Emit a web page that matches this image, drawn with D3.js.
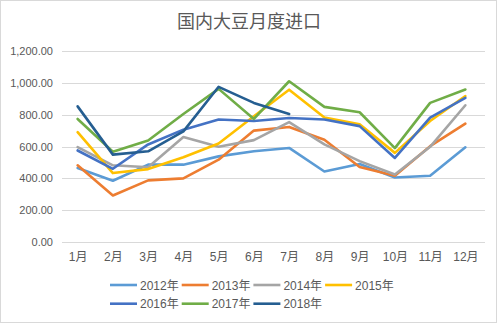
<!DOCTYPE html>
<html>
<head>
<meta charset="utf-8">
<script src="https://cdn.jsdelivr.net/npm/d3@7"></script>
<style>
  html, body { margin: 0; padding: 0; background: #fff; }
  svg { display: block; }
  text { font-family: "Liberation Sans", "Noto Sans CJK SC", sans-serif; fill: #595959; }
</style>
</head>
<body>
<svg id="chart" width="499" height="324"></svg>
<script>
// Monthly soybean imports, one series per year
const months = ["1月","2月","3月","4月","5月","6月","7月","8月","9月","10月","11月","12月"];
const seriesNames = ["2012年","2013年","2014年","2015年","2016年","2017年","2018年"];
const seriesColors = ["#5B9BD5","#ED7D31","#A5A5A5","#FFC000","#4472C4","#70AD47","#255E91"];
const v2012 = [465, 385, 486, 486, 538, 570, 591, 443, 490, 405, 416, 595];
const v2013 = [482, 292, 387, 400, 517, 700, 723, 643, 471, 416, 602, 744];
const v2014 = [596, 482, 470, 659, 598, 640, 753, 613, 508, 424, 598, 859];
const v2015 = [690, 433, 458, 532, 619, 790, 957, 782, 740, 560, 760, 917];
const v2016 = [575, 460, 613, 706, 770, 760, 779, 770, 728, 528, 782, 906];
const v2017 = [773, 567, 638, 804, 962, 773, 1010, 849, 815, 590, 874, 958];
const v2018 = [852, 549, 570, 695, 975, 874, 804];
const yTicks = [0, 200, 400, 600, 800, 1000, 1200];
const title = "国内大豆月度进口";

const allValues = [v2012, v2013, v2014, v2015, v2016, v2017, v2018];

const svg = d3.select("#chart");
const W = 499, H = 324;
const plot = { left: 60, right: 483, top: 51, bottom: 242 };

// outer chart border
svg.append("rect")
  .attr("x", 0.5).attr("y", 0.5)
  .attr("width", W - 3).attr("height", H - 2)
  .attr("fill", "#fff").attr("stroke", "#d9d9d9").attr("stroke-width", 1);

svg.append("text")
  .attr("x", 249).attr("y", 28)
  .attr("text-anchor", "middle")
  .style("font-size", "18px")
  .style("font-family", "'Noto Sans CJK SC', sans-serif")
  .text(title);

const x = d3.scalePoint().domain(months).range([plot.left, plot.right]).padding(0.5);
const y = d3.scaleLinear().domain([0, 1200]).range([plot.bottom, plot.top]);

// horizontal gridlines
svg.append("g")
  .selectAll("line")
  .data(yTicks)
  .join("line")
  .attr("x1", plot.left + 2).attr("x2", plot.right + 2)
  .attr("y1", d => Math.round(y(d)) + 0.5).attr("y2", d => Math.round(y(d)) + 0.5)
  .attr("stroke", "#d9d9d9").attr("stroke-width", 1);

// y axis labels
const yAxis = d3.axisLeft(y).tickValues(yTicks).tickSize(0).tickPadding(0)
  .tickFormat(d3.format(",.2f"));
const gy = svg.append("g").attr("transform", `translate(${53},0)`).call(yAxis);
gy.select(".domain").remove();
gy.selectAll("text").style("font-size", "11px").attr("fill", "#595959")
  .style("font-family", "'Liberation Sans', sans-serif");

// x axis labels
const xAxis = d3.axisBottom(x).tickSize(0).tickPadding(0);
const gx = svg.append("g").attr("transform", `translate(0,${252})`).call(xAxis);
gx.select(".domain").remove();
gx.selectAll("text").style("font-size", "12px").attr("fill", "#595959")
  .style("font-family", "'Liberation Sans', 'Noto Sans CJK SC', sans-serif");

// series lines
const line = d3.line()
  .x((d, i) => x(months[i]))
  .y(d => y(d));

svg.append("g")
  .selectAll("path")
  .data(allValues)
  .join("path")
  .attr("d", d => line(d))
  .attr("fill", "none")
  .attr("stroke", (d, i) => seriesColors[i])
  .attr("stroke-width", 2.6)
  .attr("stroke-linejoin", "round")
  .attr("stroke-linecap", "round");

// legend: two rows of four items
const legend = svg.append("g");
const items = legend.selectAll("g")
  .data(seriesNames)
  .join("g")
  .attr("transform", (d, i) => `translate(${110 + (i % 4) * 71.7},${285 + Math.floor(i / 4) * 18.7})`);
items.append("line")
  .attr("x1", 0).attr("x2", 27).attr("y1", 0).attr("y2", 0)
  .attr("stroke", (d, i) => seriesColors[i]).attr("stroke-width", 2.6);
items.append("text")
  .attr("x", 30).attr("y", 4.5)
  .style("font-size", "12px")
  .style("font-family", "'Liberation Sans', 'Noto Sans CJK SC', sans-serif")
  .text(d => d);
</script>
</body>
</html>
